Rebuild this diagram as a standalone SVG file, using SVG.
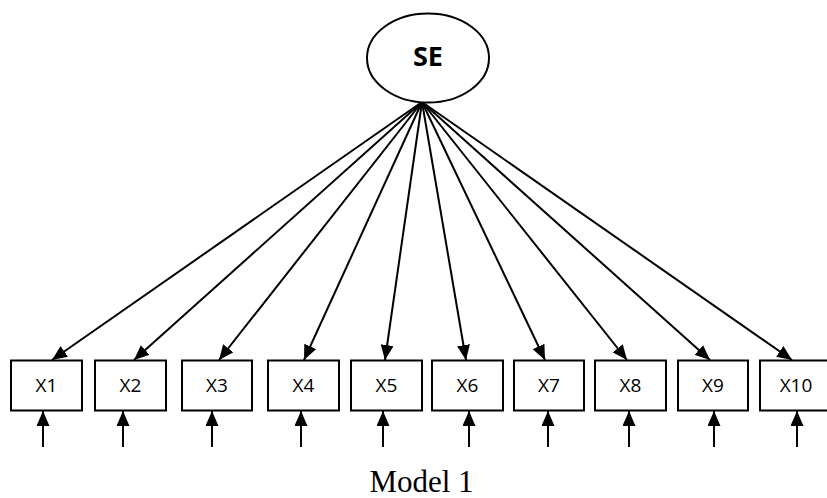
<svg xmlns="http://www.w3.org/2000/svg" width="827" height="498" viewBox="0 0 827 498">
<style>
.box{fill:#fff;stroke:#000;stroke-width:2}
.lbl{font-family:"Open Sans","Liberation Sans",sans-serif;font-size:19px;text-anchor:middle;dominant-baseline:central;fill:#000}
.ln{stroke:#000;stroke-width:2;fill:none;marker-end:url(#ah)}
</style>
<defs>
<marker id="ah" markerUnits="userSpaceOnUse" markerWidth="15" markerHeight="13" refX="15" refY="6.5" orient="auto">
<path d="M0,0 L15,6.5 L0,13 z" fill="#000"/>
</marker>
</defs>
<rect width="827" height="498" fill="#fff"/>
<g id="connectors">
<line class="ln" x1="422" y1="102" x2="52" y2="360"/>
<line class="ln" x1="422" y1="102" x2="134" y2="360"/>
<line class="ln" x1="422" y1="102" x2="219" y2="360"/>
<line class="ln" x1="422" y1="102" x2="304" y2="360"/>
<line class="ln" x1="422" y1="102" x2="385" y2="360"/>
<line class="ln" x1="422" y1="102" x2="466" y2="360"/>
<line class="ln" x1="422" y1="102" x2="545" y2="360"/>
<line class="ln" x1="422" y1="102" x2="627" y2="360"/>
<line class="ln" x1="422" y1="102" x2="710" y2="360"/>
<line class="ln" x1="422" y1="102" x2="792" y2="360"/>
<line class="ln" x1="43" y1="447" x2="43" y2="411"/>
<line class="ln" x1="123" y1="447" x2="123" y2="411"/>
<line class="ln" x1="212" y1="447" x2="212" y2="411"/>
<line class="ln" x1="301" y1="447" x2="301" y2="411"/>
<line class="ln" x1="383" y1="447" x2="383" y2="411"/>
<line class="ln" x1="469" y1="447" x2="469" y2="411"/>
<line class="ln" x1="548" y1="447" x2="548" y2="411"/>
<line class="ln" x1="629" y1="447" x2="629" y2="411"/>
<line class="ln" x1="714" y1="447" x2="714" y2="411"/>
<line class="ln" x1="797" y1="447" x2="797" y2="411"/>
</g>
<g id="SE">
<ellipse cx="428" cy="58" rx="61" ry="44.5" fill="#fff" stroke="#000" stroke-width="2"/>
<text x="428" y="55" font-family="'Open Sans','Liberation Sans',sans-serif" font-size="27" font-weight="bold" text-anchor="middle" dominant-baseline="central">SE</text>
</g>
<g id="X1"><rect class="box" x="11" y="360.5" width="71" height="50"/><text class="lbl" x="46.5" y="385">X1</text></g>
<g id="X2"><rect class="box" x="95" y="360.5" width="71" height="50"/><text class="lbl" x="130.5" y="385">X2</text></g>
<g id="X3"><rect class="box" x="182" y="360.5" width="70" height="50"/><text class="lbl" x="217" y="385">X3</text></g>
<g id="X4"><rect class="box" x="268" y="360.5" width="71" height="50"/><text class="lbl" x="303.5" y="385">X4</text></g>
<g id="X5"><rect class="box" x="351" y="360.5" width="71" height="50"/><text class="lbl" x="386.5" y="385">X5</text></g>
<g id="X6"><rect class="box" x="432" y="360.5" width="71" height="50"/><text class="lbl" x="467.5" y="385">X6</text></g>
<g id="X7"><rect class="box" x="514" y="360.5" width="70" height="50"/><text class="lbl" x="549" y="385">X7</text></g>
<g id="X8"><rect class="box" x="595" y="360.5" width="71" height="50"/><text class="lbl" x="630.5" y="385">X8</text></g>
<g id="X9"><rect class="box" x="678" y="360.5" width="70" height="50"/><text class="lbl" x="713" y="385">X9</text></g>
<g id="X10"><rect class="box" x="760" y="360.5" width="71" height="50"/><text class="lbl" x="796" y="385">X10</text></g>
<text x="421.5" y="492" font-family="'Liberation Serif','Times New Roman',serif" font-size="31" text-anchor="middle">Model 1</text>
</svg>
